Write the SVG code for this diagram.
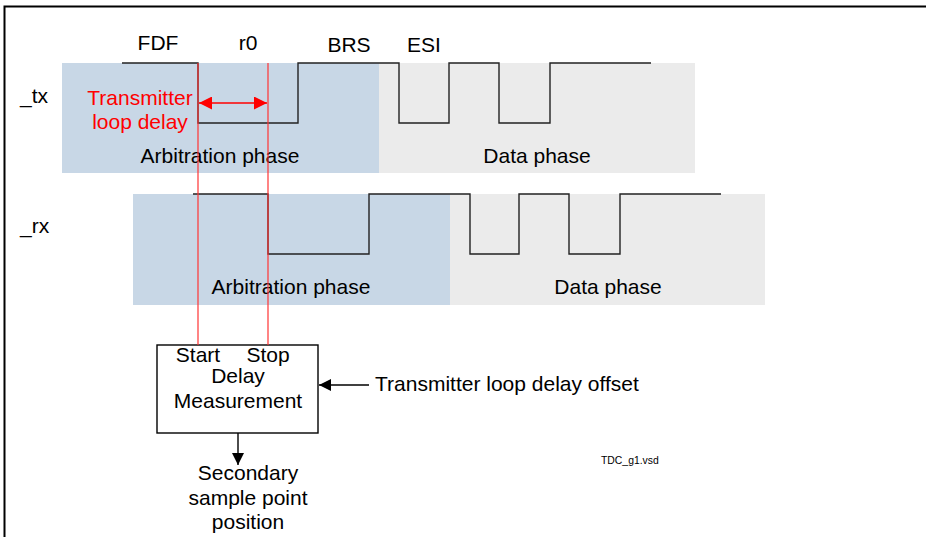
<svg xmlns="http://www.w3.org/2000/svg" width="926" height="537" viewBox="0 0 926 537">
<style>
text{font-family:"Liberation Sans",Arial,sans-serif;font-size:21px;fill:#000}
.c{text-anchor:middle}
.red{fill:#ff0000}
.sig{fill:none;stroke:#222;stroke-width:1.4}
.rl{stroke:#ff3333;stroke-width:1.2;fill:none}
.arb{fill:#c8d7e6}
.dat{fill:#ebebeb}
.blk{stroke:#000;stroke-width:1.4;fill:none}
</style>
<defs>
<marker id="ab" viewBox="0 0 10 10" refX="10" refY="5" markerWidth="16" markerHeight="12" markerUnits="userSpaceOnUse" orient="auto"><path d="M0,0L10,5L0,10Z" fill="#000"/></marker>
<marker id="ar" viewBox="0 0 10 10" refX="10" refY="5" markerWidth="17" markerHeight="13" markerUnits="userSpaceOnUse" orient="auto-start-reverse"><path d="M0,0L10,5L0,10Z" fill="#ff0000"/></marker>
</defs>
<rect width="926" height="537" fill="#fff"/>
<path d="M4.5,537V6.5H926" fill="none" stroke="#000" stroke-width="2"/>

<g id="tx">
<rect class="arb" x="62" y="63" width="317" height="110"/>
<rect class="dat" x="379" y="63" width="316" height="110"/>
<path class="sig" d="M122,63H198V123H298V63H399V123H449V63H499V123H550V63H651"/>
<text x="20" y="103">_tx</text>
<text class="c" x="220" y="163">Arbitration phase</text>
<text class="c" x="537" y="163">Data phase</text>
<text class="c" x="158" y="50">FDF</text>
<text class="c" x="248" y="50">r0</text>
<text class="c" x="349" y="52">BRS</text>
<text class="c" x="424" y="52">ESI</text>
</g>

<g id="rx">
<rect class="arb" x="133" y="194" width="317" height="111"/>
<rect class="dat" x="450" y="194" width="315" height="111"/>
<path class="sig" d="M193,194H268V254H369V194H470V254H519V194H569V254H620V194H721"/>
<text x="20" y="233">_rx</text>
<text class="c" x="291" y="294">Arbitration phase</text>
<text class="c" x="608" y="294">Data phase</text>
</g>

<g id="delay-measurement">
<rect x="157" y="345" width="161" height="88" fill="#fff" stroke="#000" stroke-width="1.4"/>
<text class="c" x="198" y="362">Start</text>
<text class="c" x="268" y="362">Stop</text>
<text class="c" x="238" y="383">Delay</text>
<text class="c" x="238" y="408">Measurement</text>
</g>

<g id="offset-label">
<text x="375" y="391">Transmitter loop delay offset</text>
</g>

<g id="output-label">
<text class="c" x="248" y="480">Secondary</text>
<text class="c" x="248" y="505">sample point</text>
<text class="c" x="248" y="529">position</text>
</g>

<g id="loop-delay-label">
<text class="c red" x="140" y="105">Transmitter</text>
<text class="c red" x="140" y="129">loop delay</text>
</g>

<g id="connectors">
<line class="rl" x1="198" y1="63" x2="198" y2="345"/>
<line class="rl" x1="268" y1="63" x2="268" y2="345"/>
<line x1="199" y1="103" x2="267" y2="103" stroke="#ff0000" stroke-width="1.4" marker-start="url(#ar)" marker-end="url(#ar)"/>
<line class="blk" x1="369" y1="385" x2="319" y2="385" marker-end="url(#ab)"/>
<line class="blk" x1="238" y1="433" x2="238" y2="465" marker-end="url(#ab)"/>
</g>

<text x="601" y="464" style="font-size:10.4px">TDC_g1.vsd</text>
</svg>
